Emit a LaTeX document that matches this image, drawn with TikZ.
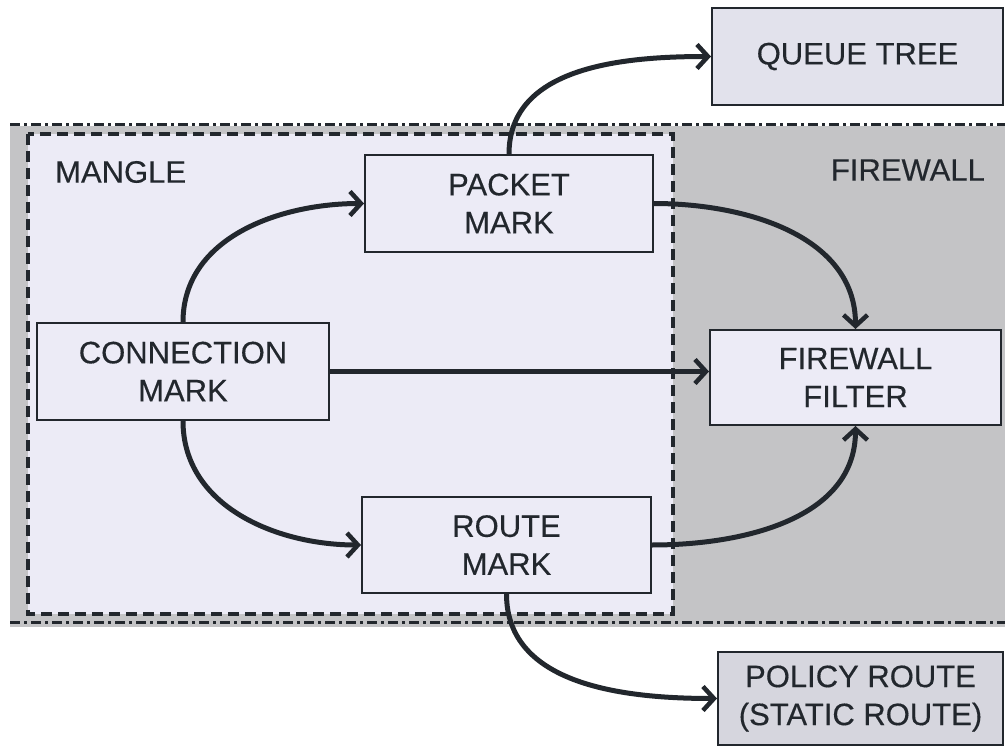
\documentclass[tikz,border=0pt]{standalone}
\usepackage{fontspec}
\setmainfont{Liberation Sans}
\newfontfamily\labfont{Liberation Sans}[FakeBold=0.35]
\usetikzlibrary{arrows.meta}
\definecolor{boxfill}{HTML}{ECEBF6}
\definecolor{extfill}{HTML}{E2E2EC}
\definecolor{polfill}{HTML}{D6D6DE}
\definecolor{fwgray}{HTML}{C4C4C6}
\definecolor{ink}{HTML}{22272D}
\tikzset{
  markbox/.style={draw=ink, line width=2pt, fill=boxfill, align=center,
    font=\labfont\fontsize{31}{38}\selectfont, text=ink, inner sep=0pt},
  flow/.style={draw=ink, line width=5pt,
    -{Straight Barb[length=11pt,width=24pt,line width=4.5pt]}},
  region/.style={font=\labfont\fontsize{31}{38}\selectfont, text=ink, inner sep=0pt}
}
\begin{document}
\begin{tikzpicture}[x=1pt,y=-1pt]
\useasboundingbox (0,0) rectangle (1005,749);
% firewall region
\fill[fwgray] (10,126) rectangle (1005,627);
\draw[ink, line width=3pt, dash pattern=on 10pt off 4pt on 3pt off 4pt] (10,125) -- (1005,125);
\draw[ink, line width=3pt, dash pattern=on 10pt off 4pt on 3pt off 4pt] (10,622) -- (1005,622);
% mangle region
\draw[ink, line width=3.2pt, fill=boxfill, dash pattern=on 11pt off 6pt] (28,134) rectangle (673,614);
\node[region, anchor=west] (mangle) at (55,172) {MANGLE};
\node[region, anchor=east] (firewall) at (985,170) {FIREWALL};
% nodes
\node[markbox, fill=extfill, minimum width=291pt, minimum height=97pt] (queue) at (857.5,56.5) {QUEUE TREE};
\node[markbox, minimum width=288pt, minimum height=97pt] (packet) at (509,203.5) {PACKET\\MARK};
\node[markbox, minimum width=292pt, minimum height=97pt] (conn) at (183,371.5) {CONNECTION\\MARK};
\node[markbox, minimum width=291pt, minimum height=95pt] (fw) at (855.5,377.5) {FIREWALL\\FILTER};
\node[markbox, minimum width=289pt, minimum height=96pt] (route) at (506.5,545) {ROUTE\\MARK};
\node[markbox, fill=polfill, minimum width=285pt, minimum height=93pt] (policy) at (860.5,698.5) {POLICY ROUTE\\(STATIC ROUTE)};
% connectors
\draw[flow] (conn.north) to[out=90,in=180] (packet.west);
\draw[flow] (conn.east) -- (fw.west |- conn.east);
\draw[flow] (conn.south) to[out=-90,in=180] (route.west);
\draw[flow] (packet.east) to[out=0,in=90] (fw.north);
\draw[flow] (route.east) to[out=0,in=-90] (fw.south);
\draw[flow] (packet.north) to[out=90,in=180] (queue.west);
\draw[flow] (route.south) to[out=-90,in=180] (policy.west);
\end{tikzpicture}
\end{document}
